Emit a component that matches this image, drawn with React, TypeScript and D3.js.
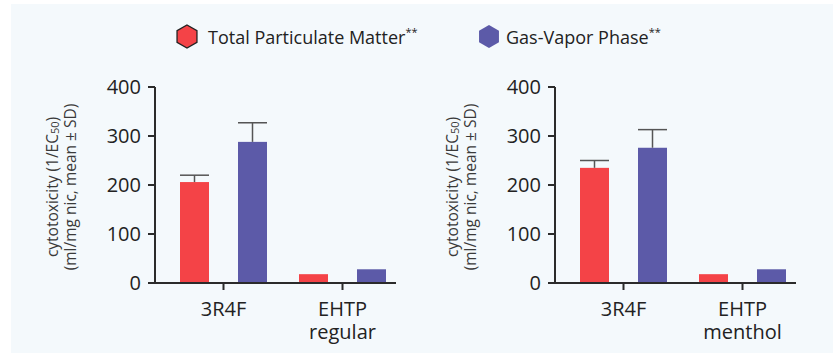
import React from 'react';
import * as d3 from 'd3';

const categoriesLeft = ['3R4F', 'EHTP\nregular'];
const categoriesRight = ['3R4F', 'EHTP\nmenthol'];
const seriesNames = ['Total Particulate Matter', 'Gas-Vapor Phase'];
const seriesColors = ['#f44347', '#5c5aa8'];

// left panel (regular)
const tpmLeft = [206, 18];
const tpmLeftSd = [14, 0];
const gvpLeft = [288, 28];
const gvpLeftSd = [39, 0];

// right panel (menthol)
const tpmRight = [235, 18];
const tpmRightSd = [15, 0];
const gvpRight = [276, 28];
const gvpRightSd = [37, 0];

const yTicks = [0, 100, 200, 300, 400];

const W = 839;
const H = 354;
const FONT = '"Open Sans", "Noto Sans", sans-serif';

type PanelProps = {
  x0: number;
  categories: string[];
  tpm: number[];
  tpmSd: number[];
  gvp: number[];
  gvpSd: number[];
};

const hexPath = (cx: number, cy: number, r: number) => {
  const pts = d3.range(6).map((i) => {
    const a = (Math.PI / 3) * i - Math.PI / 2;
    return [cx + r * Math.cos(a), cy + r * Math.sin(a)];
  });
  return 'M' + pts.map((p) => p.join(',')).join('L') + 'Z';
};

const Panel = ({ x0, categories, tpm, tpmSd, gvp, gvpSd }: PanelProps) => {
  const y = d3.scaleLinear().domain([0, 400]).range([283, 87]);
  const x = d3.scaleBand().domain(categories).range([x0 + 9, x0 + 247]).padding(0);
  const x1 = d3.scaleBand().domain(seriesNames).range([-43.5, 43.5]).paddingInner(0.5);
  const vals = [tpm, gvp];
  const sds = [tpmSd, gvpSd];
  const axisColor = '#2b2b2b';

  return (
    <g>
      {/* y title */}
      <g transform={`translate(${x0 - 97},187) rotate(-90)`} fill="#3a3a3a" fontSize={15.5} fontFamily={FONT} textAnchor="middle">
        <text y={0}>
          cytotoxicity (1/EC<tspan fontSize={11} dy={1}>50</tspan><tspan dy={-1}>)</tspan>
        </text>
        <text y={18}>(ml/mg nic, mean ± SD)</text>
      </g>
      {/* bars */}
      {categories.map((c, ci) =>
        seriesNames.map((s, si) => {
          const cx = (x(c) as number) + x.bandwidth() / 2;
          const bx = cx + (x1(s) as number);
          const v = vals[si][ci];
          const sd = sds[si][ci];
          const bw = x1.bandwidth();
          return (
            <g key={c + s}>
              <rect x={bx} y={y(v)} width={bw} height={y(0) - y(v)} fill={seriesColors[si]} />
              {sd > 0 && (
                <g stroke="#555" strokeWidth={1.5}>
                  <line x1={bx + bw / 2} x2={bx + bw / 2} y1={y(v)} y2={y(v + sd)} />
                  <line x1={bx} x2={bx + bw} y1={y(v + sd)} y2={y(v + sd)} />
                </g>
              )}
            </g>
          );
        })
      )}
      {/* y axis */}
      <line x1={x0} x2={x0} y1={y(400)} y2={y(0) + 1} stroke={axisColor} strokeWidth={2} />
      {yTicks.map((t) => (
        <g key={t}>
          <line x1={x0 - 7} x2={x0} y1={y(t)} y2={y(t)} stroke={axisColor} strokeWidth={2} />
          <text x={x0 - 14} y={y(t) + 7} textAnchor="end" fontSize={20} fontFamily={FONT} fill="#222">
            {t}
          </text>
        </g>
      ))}
      {/* x axis */}
      <line x1={x0} x2={x0 + 241} y1={y(0)} y2={y(0)} stroke={axisColor} strokeWidth={2} />
      {categories.map((c) => {
        const cx = (x(c) as number) + x.bandwidth() / 2;
        return (
          <g key={c}>
            <line x1={cx} x2={cx} y1={y(0)} y2={y(0) + 7} stroke={axisColor} strokeWidth={2} />
            {c.split('\n').map((line, i) => (
              <text key={i} x={cx} y={316 + i * 23} textAnchor="middle" fontSize={20} fontFamily={FONT} fill="#222">
                {line}
              </text>
            ))}
          </g>
        );
      })}
    </g>
  );
};

const App = () => {
  return (
    <div style={{ position: 'absolute', left: 0, top: 0 }}>
      <svg width={W} height={H} style={{ display: 'block' }}>
        <rect x={0} y={0} width={W} height={H} fill="#fff" />
        <rect x={11} y={4} width={822} height={349} fill="#f4f9fc" />
        {/* legend */}
        <path d={hexPath(187, 36.5, 11.5)} fill={seriesColors[0]} stroke="#222" strokeWidth={1.3} />
        <text x={208} y={44} fontSize={18} fontFamily={FONT} fill="#222">
          {seriesNames[0]}
          <tspan fontSize={11} dy={-8}>**</tspan>
        </text>
        <path d={hexPath(489, 36.5, 11.5)} fill={seriesColors[1]} />
        <text x={506} y={44} fontSize={18} fontFamily={FONT} fill="#222">
          {seriesNames[1]}
          <tspan fontSize={11} dy={-8}>**</tspan>
        </text>
        <Panel x0={155} categories={categoriesLeft} tpm={tpmLeft} tpmSd={tpmLeftSd} gvp={gvpLeft} gvpSd={gvpLeftSd} />
        <Panel x0={555} categories={categoriesRight} tpm={tpmRight} tpmSd={tpmRightSd} gvp={gvpRight} gvpSd={gvpRightSd} />
      </svg>
    </div>
  );
};

export default App;
